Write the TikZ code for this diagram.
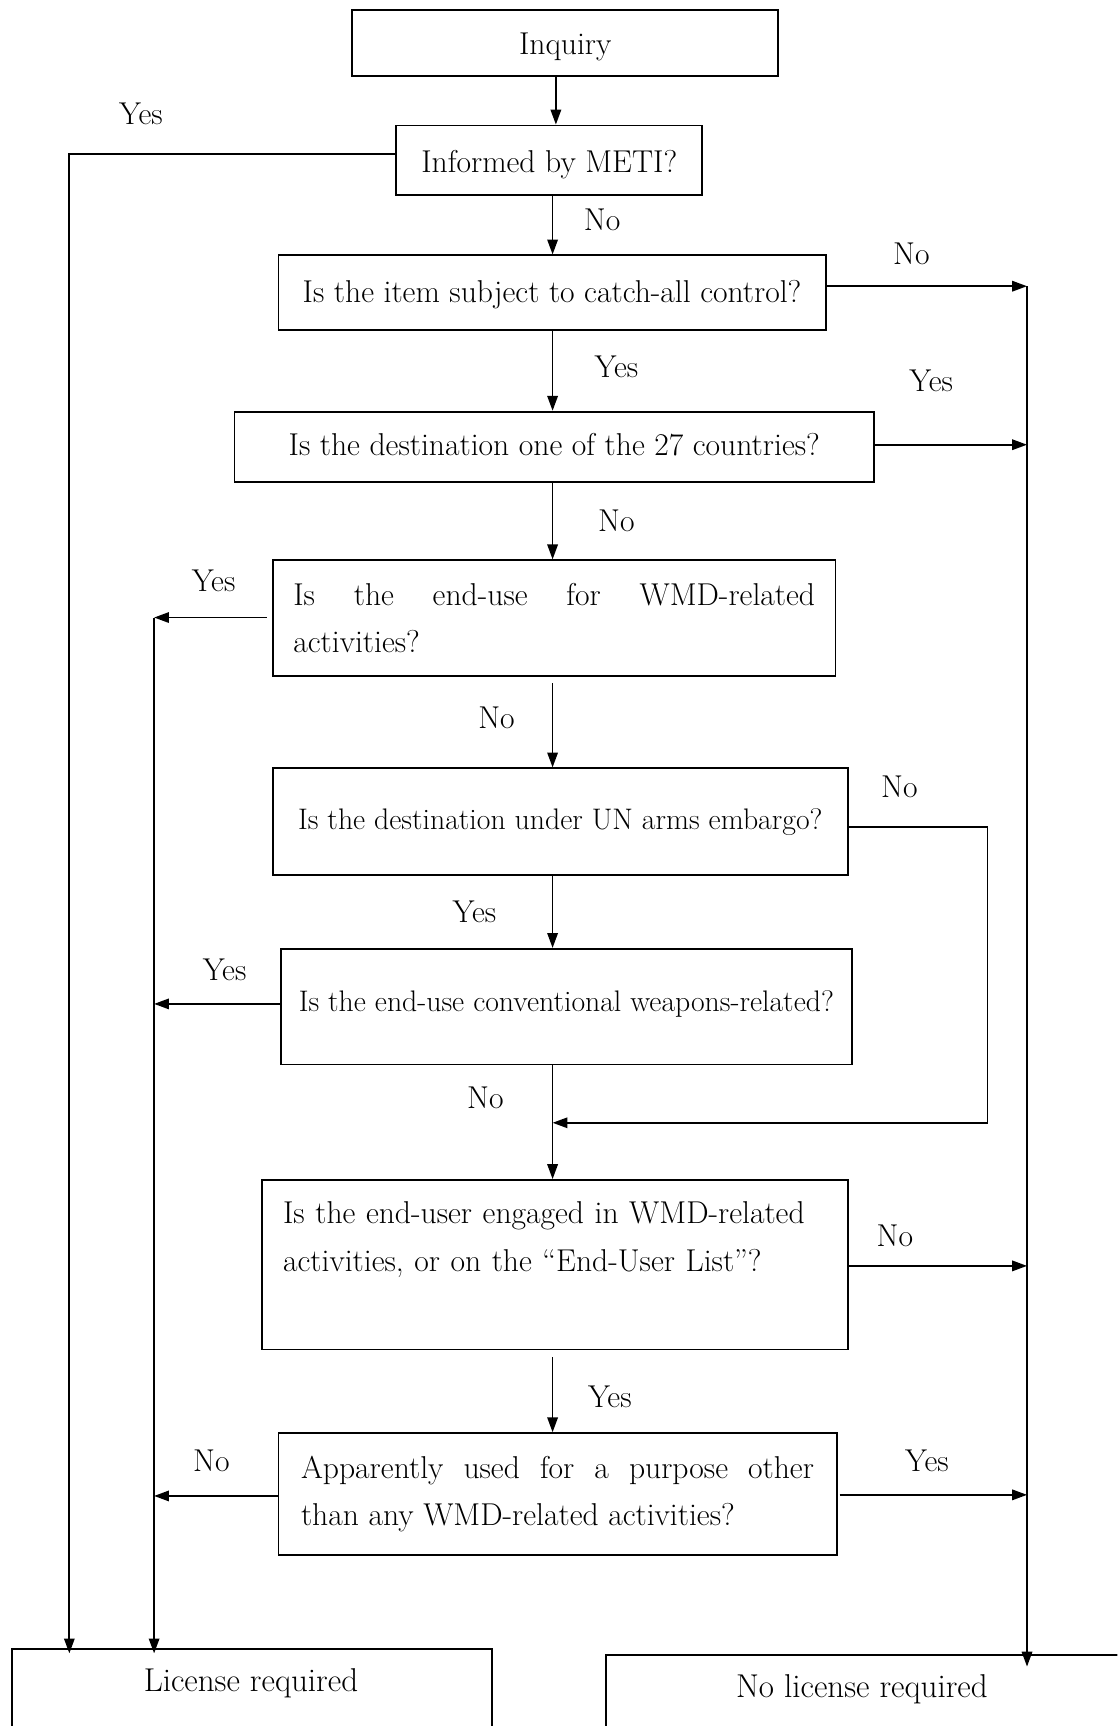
\documentclass[tikz,border=0pt]{standalone}
\usepackage{fontspec}
\usetikzlibrary{arrows.meta,calc}
\begin{document}
\begin{tikzpicture}[x=1pt,y=-1pt,
  every node/.style={font=\fontsize{28.7}{43}\selectfont},
  box/.style={draw, line width=1.7pt, inner sep=0pt},
  smallfont/.style={font=\fontsize{27}{43}\selectfont},
  bigfont/.style={font=\fontsize{30}{43}\selectfont},
  tc/.style={text height=#1, text depth=0pt},
  lbl/.style={inner sep=0pt},
  arr/.style={line width=1.6pt, -{Triangle[length=13.5pt,width=9.5pt]}},
  ln/.style={line width=1.6pt}]
\clip (0,0) rectangle (1015,1568);
\fill[white] (0,0) rectangle (1015,1568);
% boxes
\node[box, tc=21.6pt, minimum width=387pt, minimum height=60pt] (inq) at (513.5,39) {Inquiry};
\node[box, tc=22.6pt, minimum width=278pt, minimum height=63pt] (meti) at (499,145.5) {Informed by METI?};
\node[box, tc=18pt, minimum width=497pt, minimum height=68pt] (q1) at (501.5,266) {Is the item subject to catch-all control?};
\node[box, tc=15pt, minimum width=581pt, minimum height=64pt] (q2) at (503.5,406) {Is the destination one of the 27 countries?};
\node[box, minimum width=511pt, minimum height=105pt, text width=474pt, align=justify] (q3) at (503.5,561.5) {Is the end-use for WMD-related\linebreak activities?};
\node[box, smallfont, tc=13.9pt, minimum width=522pt, minimum height=97pt] (q4) at (509,746.5) {Is the destination under UN arms embargo?};
\node[box, smallfont, tc=8pt, minimum width=519pt, minimum height=105pt] (q5) at (514.5,914.5) {Is the end-use conventional weapons-related?};
\node[box, minimum width=532pt, minimum height=154pt] (q6) at (504,1149) {};
\node[lbl, anchor=west, text width=510pt, align=left] (q6t) at (257,1126) {Is the end-user engaged in WMD-related\\activities, or on the ``End-User List''?};
\node[box, minimum width=507pt, minimum height=111pt, text width=466pt, align=justify] (q7) at (506.5,1357.5) {Apparently used for a purpose other\linebreak than any WMD-related activities?};
\node[box, anchor=north west, minimum width=436pt, minimum height=120pt] (lic) at (10,1497) {};
\node[lbl, bigfont] (lict) at (228,1529) {License required};
\node[box, anchor=north west, minimum width=520pt, minimum height=120pt] (nolic) at (550,1503) {};
\node[lbl, bigfont] (nolict) at (783,1535) {No license required};
% junction coordinates
\coordinate (c0) at (505,0);
\coordinate (mc) at (502,0);
\coordinate (L1) at (63,140);
\coordinate (L2) at (140,561);
\coordinate (R) at (933,260);
\coordinate (J1) at (897,751);
\coordinate (J2) at (897,1020);
\coordinate (J3) at (502,1020);
% connectors
\draw[arr] (inq.south -| c0) -- (meti.north -| c0);
\draw[arr] (meti.west |- L1) -- (L1) -- ([yshift=-5pt]lic.north -| L1);
\draw[arr] (meti.south -| mc) -- (q1.north -| mc);
\draw[arr] (q1.east |- R) -- (R);
\draw[arr] (q1.south -| mc) -- (q2.north -| mc);
\draw[arr] (q2.east |- 0,404) -- (R |- 0,404);
\draw[arr] (q2.south -| mc) -- (q3.north -| mc);
\draw[arr, shorten <=5pt] (q3.west |- L2) -- (L2);
\draw[arr] (L2) -- ([yshift=-5pt]lic.north -| L2);
\draw[arr, shorten <=6pt] (q3.south -| mc) -- (q4.north -| mc);
\draw[ln] (q4.east |- J1) -- (J1) -- (J2) -- ([xshift=-0.75pt]J2);
\draw[arr] (J2) -- (J3);
\draw[arr] (q4.south -| mc) -- (q5.north -| mc);
\draw[arr] (q5.west |- 0,912) -- (L2 |- 0,912);
\draw[arr] (q5.south -| mc) -- (q6.north -| mc);
\draw[arr] (q6.east |- 0,1150) -- (R |- 0,1150);
\draw[arr, shorten <=6pt] (q6.south -| mc) -- (q7.north -| mc);
\draw[arr] (q7.west |- 0,1359) -- (L2 |- 0,1359);
\draw[arr, shorten <=2pt] (q7.east |- 0,1358) -- (R |- 0,1358);
\draw[arr] (R) -- ([yshift=-11pt]nolic.north -| R);
% labels
\node[lbl] (y1) at (128,103) {Yes};
\node[lbl] (n1) at (547,200) {No};
\node[lbl] (n2) at (828,231) {No};
\node[lbl] (y2) at (560,333) {Yes};
\node[lbl] (y3) at (846,346) {Yes};
\node[lbl] (n3) at (560,473) {No};
\node[lbl] (y4) at (194,528) {Yes};
\node[lbl] (n4) at (451,652) {No};
\node[lbl] (n5) at (817,715) {No};
\node[lbl] (y5) at (431,828) {Yes};
\node[lbl] (y6) at (204,881) {Yes};
\node[lbl] (n6) at (441,997) {No};
\node[lbl] (n7) at (813,1123) {No};
\node[lbl] (y7) at (554,1269) {Yes};
\node[lbl] (n8) at (192,1327) {No};
\node[lbl] (y8) at (842,1327) {Yes};
\end{tikzpicture}
\end{document}
